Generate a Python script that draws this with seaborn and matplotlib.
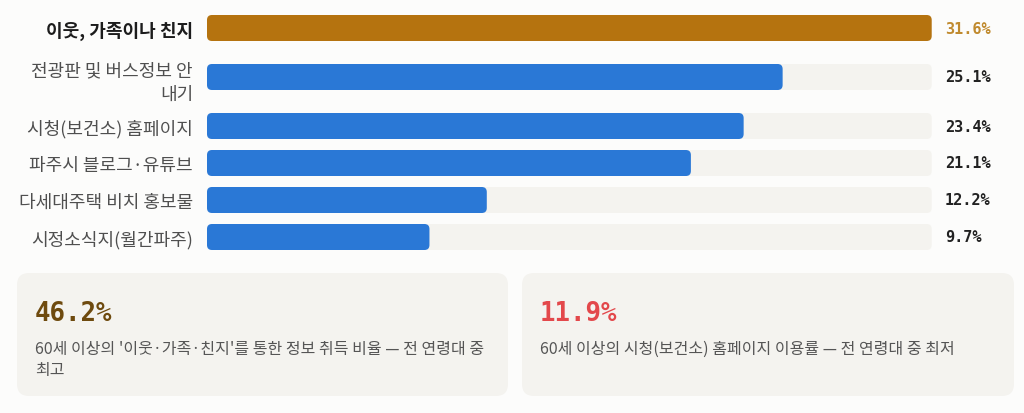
import numpy as np
import pandas as pd
import matplotlib
matplotlib.use("Agg")
import matplotlib.pyplot as plt
from matplotlib.patches import FancyBboxPatch, Rectangle
import seaborn as sns

# ---- data ----
categories = ["이웃, 가족이나 친지", "전광판 및 버스정보 안\n내기", "시청(보건소) 홈페이지",
              "파주시 블로그·유튜브", "다세대주택 비치 홍보물", "시정소식지(월간파주)"]
values = [31.6, 25.1, 23.4, 21.1, 12.2, 9.7]
value_labels = ["31.6%", "25.1%", "23.4%", "21.1%", "12.2%", "9.7%"]
card_numbers = ["46.2%", "11.9%"]
card_texts = ["60세 이상의 '이웃·가족·친지'를 통한 정보 취득 비율 — 전 연령대 중\n최고",
              "60세 이상의 시청(보건소) 홈페이지 이용률 — 전 연령대 중 최저"]

# ---- style ----
BG = "#fcfcfb"
TRACK = "#f4f3ef"
GOLD = "#b5730f"
BLUE = "#2a78d6"
KR = ["Noto Sans CJK KR", "DejaVu Sans"]
MONO = ["DejaVu Sans Mono"]

sns.set_theme(style="white")
plt.rcParams["font.family"] = KR

W, H = 1024, 414
fig = plt.figure(figsize=(W / 100, H / 100), dpi=100, facecolor=BG)

# layout in pixels
row_base, line_extra, bar_h = 37.0, 24.0, 26.0
nlines = [c.count("\n") + 1 for c in categories]
heights = [row_base + line_extra * (n - 1) for n in nlines]
ypos = list(np.cumsum([0] + heights[:-1]) + np.array(heights) / 2)
total_h = sum(heights)
top_px, left_px, right_px = 10.5, 207.0, 931.7

# background axes for cards
bg = fig.add_axes([0, 0, 1, 1], zorder=0)
bg.set_xlim(0, W)
bg.set_ylim(H, 0)
bg.axis("off")

ax = fig.add_axes([left_px / W, 1 - (top_px + total_h) / H,
                   (right_px - left_px) / W, total_h / H], zorder=1)
ax.set_facecolor("none")

df = pd.DataFrame({"cat": categories, "value": values, "y": ypos,
                   "track": [max(values)] * len(values),
                   "top": ["top" if v == max(values) else "other" for v in values]})

min_gap = float(np.min(np.diff(sorted(ypos))))
w_rel = bar_h / min_gap


def round_patches(ax, patches):
    xscale = (right_px - left_px) / max(values)  # px per data unit
    r_px = 5.0
    r = r_px / xscale
    for p in patches:
        x0, y0 = p.get_x(), p.get_y()
        w, h = p.get_width(), p.get_height()
        fc = p.get_facecolor()
        p.remove()
        fb = FancyBboxPatch((x0, y0), w, h,
                            boxstyle=f"round,pad=0,rounding_size={r}",
                            mutation_aspect=r_px / r,
                            facecolor=fc, edgecolor="none", zorder=p.get_zorder())
        ax.add_patch(fb)


sns.barplot(data=df, x="track", y="y", orient="h", native_scale=True,
            width=w_rel, color=TRACK, saturation=1, errorbar=None, ax=ax)
round_patches(ax, [p for p in ax.patches if isinstance(p, Rectangle)])
n_before = len(ax.patches)
sns.barplot(data=df, x="value", y="y", orient="h", native_scale=True,
            width=w_rel, hue="top", palette={"top": GOLD, "other": BLUE},
            saturation=1, dodge=False, errorbar=None, legend=False, ax=ax)
round_patches(ax, [p for p in ax.patches[n_before:] if isinstance(p, Rectangle)])

ax.set_xlim(0, max(values))
ax.set_ylim(total_h, 0)
ax.set_xlabel("")
ax.set_ylabel("")
ax.set_xticks([])
ax.set_yticks(ypos)
ax.set_yticklabels(categories)
ax.tick_params(axis="y", length=0, pad=10)
for i, t in enumerate(ax.get_yticklabels()):
    t.set_fontsize(13)
    t.set_linespacing(1.4)
    if i == 0:
        t.set_fontweight("bold")
        t.set_color("#1c1c1c")
    else:
        t.set_color("#4f4f4f")
for s in ax.spines.values():
    s.set_visible(False)

for i, (y, lab) in enumerate(zip(ypos, value_labels)):
    ax.annotate(lab, xy=(1.0, y), xycoords=("axes fraction", "data"),
                xytext=(13, 0), textcoords="offset pixels",
                ha="left", va="center", fontsize=11, fontweight="bold",
                family=MONO, color="#c08a2e" if i == 0 else "#222222")

# ---- cards ----
cards = [(17, 508, "#6e4a0e"), (522, 1014, "#e3484b")]
for (x0, x1, col), num, txt in zip(cards, card_numbers, card_texts):
    bg.add_patch(FancyBboxPatch((x0, 274), x1 - x0, 123,
                                boxstyle="round,pad=0,rounding_size=12",
                                facecolor=TRACK, edgecolor="none"))
    bg.text(x0 + 18, 314, num, ha="left", va="center", fontsize=18.5,
            fontweight="bold", family=MONO, color=col)
    bg.text(x0 + 18, 341, txt, ha="left", va="top", fontsize=11.5,
            color="#555555", linespacing=1.3, family=KR)

fig.savefig("out.png", dpi=100, facecolor=BG)
